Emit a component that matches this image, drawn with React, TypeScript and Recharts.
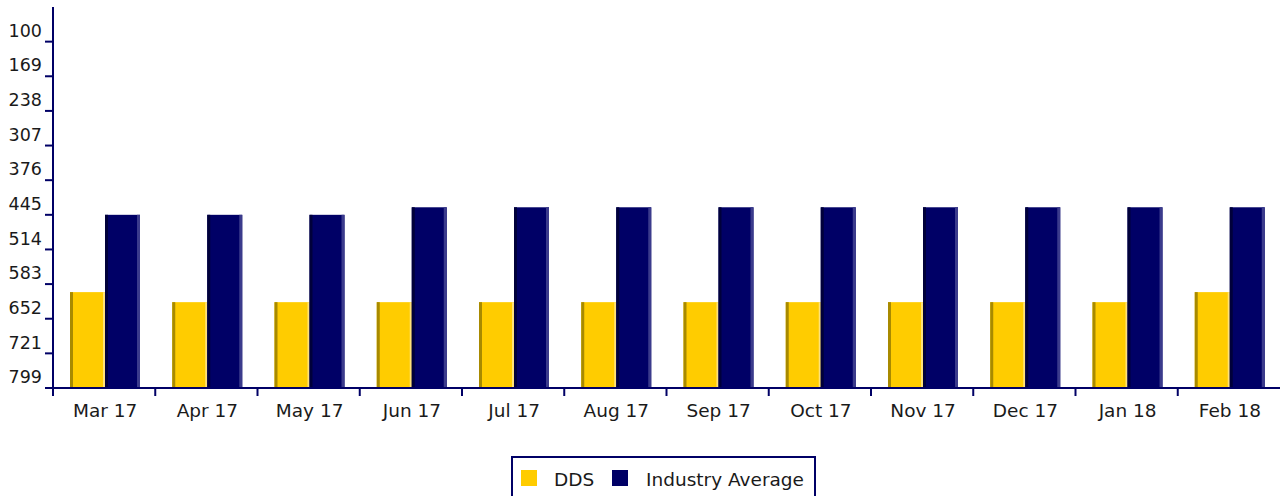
import { BarChart, Bar, XAxis, YAxis } from 'recharts';

const months = ['Mar 17', 'Apr 17', 'May 17', 'Jun 17', 'Jul 17', 'Aug 17', 'Sep 17', 'Oct 17', 'Nov 17', 'Dec 17', 'Jan 18', 'Feb 18'];
const ddsValues = [599, 619, 619, 619, 619, 619, 619, 619, 619, 619, 619, 599];
const industryValues = [445, 445, 445, 430, 430, 430, 430, 430, 430, 430, 430, 430];
// axis labels from bottom to top, drawn evenly spaced
const yLabels = [799, 721, 652, 583, 514, 445, 376, 307, 238, 169, 100];

const NAVY = '#000066';
const FONT = "'DejaVu Sans', Verdana, sans-serif";
const BAND = (1281 - 53 - 1) / months.length;

// the axis runs downward in value, so map a value onto its slot between the labels
function toPos(v: number) {
  for (let i = 0; i < yLabels.length - 1; i++) {
    const a = yLabels[i];
    const b = yLabels[i + 1];
    if (v <= a && v >= b) return i + (a - v) / (a - b);
  }
  return 0;
}

const data = months.map((m, i) => ({
  month: m,
  dds: toPos(ddsValues[i]),
  industry: toPos(industryValues[i]),
}));

function shadedBar(dark: string, main: string, light: string, leftW: number, rightW: number) {
  return (props: any) => {
    const { x, y, width, height } = props;
    if (!height || height <= 0) return <g />;
    const bx = x + 1;
    return (
      <g>
        <rect x={bx} y={y} width={width} height={height} fill={main} />
        <rect x={bx} y={y} width={leftW} height={height} fill={dark} />
        <rect x={bx + width - rightW} y={y} width={rightW} height={height} fill={light} />
      </g>
    );
  };
}

const YTick = (props: any) => {
  const { x, y, payload } = props;
  return (
    <text x={x} y={y - 11} dy="0.355em" textAnchor="end" fill="#1a1a1a" fontSize={17.5} fontFamily={FONT}>
      {yLabels[payload.value]}
    </text>
  );
};

const XTick = (props: any) => {
  const { x, y, payload } = props;
  const left = x - BAND / 2;
  return (
    <g>
      <line x1={left} x2={left} y1={y} y2={y + 8} stroke={NAVY} strokeWidth={2} />
      <text x={x + 1} y={y + 22} dy="0.355em" textAnchor="middle" fill="#1a1a1a" fontSize={18.5} fontFamily={FONT}>
        {payload.value}
      </text>
    </g>
  );
};

function Legend() {
  return (
    <div
      style={{
        position: 'absolute',
        left: 511,
        top: 456,
        width: 301,
        height: 50,
        border: `2px solid ${NAVY}`,
        fontFamily: FONT,
        fontSize: 18.5,
        color: '#1a1a1a',
      }}
    >
      <div style={{ position: 'absolute', left: 8, top: 12, width: 16, height: 16, background: '#ffcc00' }} />
      <div style={{ position: 'absolute', left: 41, top: 12, lineHeight: '20px' }}>DDS</div>
      <div style={{ position: 'absolute', left: 99, top: 12, width: 16, height: 16, background: NAVY }} />
      <div style={{ position: 'absolute', left: 133, top: 12, lineHeight: '20px', whiteSpace: 'nowrap' }}>Industry Average</div>
    </div>
  );
}

export default function App() {
  return (
    <div style={{ position: 'absolute', left: 0, top: 0, width: 1281, height: 496, overflow: 'hidden', background: '#fff' }}>
      <BarChart
        width={1281}
        height={496}
        data={data}
        margin={{ top: 7, right: 1, left: 0, bottom: 0 }}
        barSize={35}
        barGap={0}
      >
        <XAxis
          dataKey="month"
          height={108}
          stroke={NAVY}
          strokeWidth={2}
          tickLine={false}
          tickSize={0}
          tickMargin={0}
          interval={0}
          tick={<XTick />}
        />
        <YAxis
          type="number"
          domain={[0, 11]}
          ticks={[0, 1, 2, 3, 4, 5, 6, 7, 8, 9, 10]}
          width={53}
          stroke={NAVY}
          strokeWidth={2}
          tickSize={8}
          tickMargin={3}
          tickLine={{ stroke: NAVY, strokeWidth: 2 }}
          tick={<YTick />}
        />
        <Bar dataKey="dds" isAnimationActive={false} shape={shadedBar('#a88a00', '#ffcc00', '#ffe27a', 3, 2)} />
        <Bar dataKey="industry" isAnimationActive={false} shape={shadedBar('#00003a', NAVY, '#3b3b8c', 3, 3)} />
      </BarChart>
      <Legend />
    </div>
  );
}
